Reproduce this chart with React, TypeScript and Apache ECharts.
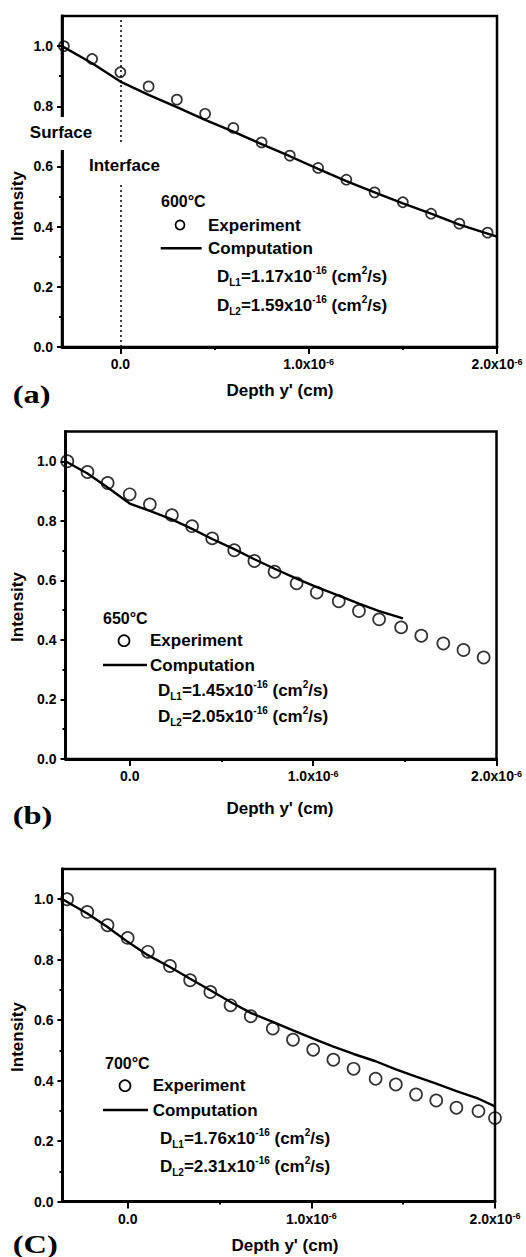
import { useEffect, useRef } from 'react';
import * as echarts from 'echarts';

const FONT = '"Liberation Sans", Arial, Helvetica, sans-serif';
const SERIF = '"Liberation Serif", "Times New Roman", serif';

// Depth values are in units of 1e-6 cm
// ---- Panel (a) 600°C ----
const expDepthA = [-0.30, -0.15, 0.00, 0.15, 0.30, 0.45, 0.60, 0.75, 0.90, 1.05, 1.20, 1.35, 1.50, 1.65, 1.80, 1.95];
const expIntA = [1.0, 0.957, 0.913, 0.866, 0.822, 0.775, 0.728, 0.680, 0.636, 0.595, 0.556, 0.514, 0.481, 0.443, 0.410, 0.380];
const compDepthA = [-0.31, -0.15, 0.00, 0.15, 0.30, 0.45, 0.60, 0.75, 0.90, 1.05, 1.20, 1.35, 1.50, 1.65, 1.80, 2.00];
const compIntA = [1.0, 0.943, 0.882, 0.838, 0.797, 0.755, 0.716, 0.674, 0.634, 0.592, 0.551, 0.514, 0.477, 0.443, 0.407, 0.367];

// ---- Panel (b) 650°C ----
const expDepthB = [-0.34, -0.23, -0.12, 0.00, 0.11, 0.23, 0.34, 0.45, 0.57, 0.68, 0.79, 0.91, 1.02, 1.14, 1.25, 1.36, 1.48, 1.59, 1.71, 1.82, 1.93];
const expIntB = [1.0, 0.964, 0.927, 0.889, 0.855, 0.819, 0.782, 0.741, 0.701, 0.665, 0.629, 0.590, 0.559, 0.530, 0.497, 0.469, 0.442, 0.414, 0.388, 0.366, 0.341];
const compDepthB = [-0.35, -0.23, -0.12, 0.00, 0.11, 0.23, 0.34, 0.45, 0.57, 0.68, 0.79, 0.91, 1.02, 1.14, 1.25, 1.36, 1.49];
const compIntB = [1.0, 0.959, 0.912, 0.858, 0.833, 0.805, 0.773, 0.739, 0.705, 0.671, 0.639, 0.606, 0.577, 0.549, 0.522, 0.497, 0.472];

// ---- Panel (c) 700°C ----
const expDepthC = [-0.33, -0.22, -0.11, 0.00, 0.11, 0.23, 0.34, 0.45, 0.56, 0.67, 0.79, 0.90, 1.01, 1.12, 1.23, 1.35, 1.46, 1.57, 1.68, 1.79, 1.91, 2.00];
const expIntC = [1.0, 0.958, 0.914, 0.872, 0.826, 0.779, 0.732, 0.693, 0.649, 0.613, 0.572, 0.535, 0.502, 0.469, 0.439, 0.406, 0.387, 0.354, 0.334, 0.310, 0.299, 0.276];
const compDepthC = [-0.355, -0.22, -0.11, 0.00, 0.11, 0.23, 0.34, 0.45, 0.56, 0.67, 0.79, 0.90, 1.01, 1.12, 1.23, 1.35, 1.46, 1.57, 1.68, 1.79, 1.91, 2.00];
const compIntC = [1.0, 0.953, 0.908, 0.859, 0.815, 0.776, 0.737, 0.699, 0.660, 0.624, 0.594, 0.566, 0.539, 0.512, 0.488, 0.464, 0.437, 0.413, 0.390, 0.365, 0.340, 0.315];

const temperatures = ['600°C', '650°C', '700°C'];
const dL1Values = ['1.17', '1.45', '1.76'];
const dL2Values = ['1.59', '2.05', '2.31'];
const panelLetters = ['(a)', '(b)', '(C)'];

const xTickValues = [0, 1, 2];
const xMinorTicks = [0.5, 1.5];
const xMax = 2.0;
const yTickValues = [0, 0.2, 0.4, 0.6, 0.8, 1.0];
const yMinorTicks = [0.1, 0.3, 0.5, 0.7, 0.9];
const yMax = 1.1;

const xAxisTitle = "Depth y' (cm)";
const yAxisTitle = 'Intensity';

const zip = (xs: number[], ys: number[]) => xs.map((x, i) => [x, ys[i]]);

const panels = [
  {
    grid: { left: 62, top: 16, width: 435, height: 331 }, xMin: -0.31, sym: 10,
    exp: zip(expDepthA, expIntA), comp: zip(compDepthA, compIntA), interfaceLine: true,
    titleX: 280, titleY: 390, intensityY: 206, letterY: 394,
    temp: { x: 161, y: 201.7 }, circ: { x: 180, y: 225, r: 4.5 }, line: { x1: 160.7, x2: 201.7, y: 248.3 },
    textX: 208, expY: 225, compY: 248.3, dX: 217, d1Y: 276.7, d2Y: 305,
  },
  {
    grid: { left: 65.5, top: 431.5, width: 431, height: 327.5 }, xMin: -0.35, sym: 12,
    exp: zip(expDepthB, expIntB), comp: zip(compDepthB, compIntB), interfaceLine: false,
    titleX: 280, titleY: 808, intensityY: 607, letterY: 815,
    temp: { x: 103, y: 618 }, circ: { x: 124, y: 640.7, r: 5.5 }, line: { x1: 103, x2: 147, y: 665 },
    textX: 150, expY: 640.7, compY: 665, dX: 158, d1Y: 690, d2Y: 716.7,
  },
  {
    grid: { left: 62.5, top: 869, width: 432.5, height: 332.5 }, xMin: -0.355, sym: 12,
    exp: zip(expDepthC, expIntC), comp: zip(compDepthC, compIntC), interfaceLine: false,
    titleX: 285, titleY: 1245, intensityY: 1037, letterY: 1244,
    temp: { x: 105, y: 1063 }, circ: { x: 125, y: 1085.7, r: 5.5 }, line: { x1: 103, x2: 148, y: 1110 },
    textX: 152.7, expY: 1085.7, compY: 1110, dX: 160, d1Y: 1138, d2Y: 1166.7,
  },
];

const txt = (x: number, y: number, text: string, size: number, extra: any = {}) => ({
  type: 'text', x, y, z: 101,
  style: {
    text, fill: '#000', fontSize: size, fontWeight: 'bold', fontFamily: FONT,
    align: 'left', verticalAlign: 'middle', ...extra,
  },
});

const dText = (x: number, y: number, sub: string, val: string) => ({
  type: 'text', x, y, z: 101,
  style: {
    text: `{m|D}{sb|${sub}}{m|=${val}x10}{sp|-16}{m| (cm}{sp|2}{m|/s)}`,
    align: 'left', verticalAlign: 'middle', fill: '#000',
    rich: {
      m: { fontSize: 17, fontWeight: 'bold', fontFamily: FONT, fill: '#000', color: '#000', lineHeight: 22, verticalAlign: 'middle' },
      sp: { fontSize: 10, fontWeight: 'bold', fontFamily: FONT, fill: '#000', color: '#000', lineHeight: 10, verticalAlign: 'top' },
      sb: { fontSize: 10, fontWeight: 'bold', fontFamily: FONT, fill: '#000', color: '#000', lineHeight: 10, verticalAlign: 'bottom' },
    },
  },
});

function buildOption() {
  const grids: any[] = [];
  const xAxes: any[] = [];
  const yAxes: any[] = [];
  const series: any[] = [];
  const elements: any[] = [];

  panels.forEach((p) => {
    grids.push({ ...p.grid, show: true, borderColor: '#000', borderWidth: 2.5, backgroundColor: 'transparent', outerBoundsMode: 'none', containLabel: false });
  });
  panels.forEach((p) => {
    grids.push({ ...p.grid, show: false, outerBoundsMode: 'none', containLabel: false });
  });

  const labelStyle = { color: '#000', fontSize: 14, fontWeight: 'bold', fontFamily: FONT };

  panels.forEach((p, i) => {
    xAxes.push({
      type: 'value', gridIndex: i, min: p.xMin, max: xMax, position: 'bottom',
      axisLine: { show: true, onZero: false, lineStyle: { color: '#000', width: 2.8 } },
      axisTick: { show: true, inside: false, length: 7, lineStyle: { color: '#000', width: 2 }, customValues: xTickValues },
      axisLabel: {
        show: true, customValues: xTickValues, margin: 10,
        formatter: (v: number) => (v === 0 ? '{m|0.0}' : `{m|${v.toFixed(1)}x10}{s|-6}`),
        rich: {
          m: { ...labelStyle, lineHeight: 14 },
          s: { ...labelStyle, fontSize: 9, lineHeight: 9, verticalAlign: 'top' },
        },
      },
      splitLine: { show: false },
    });
    yAxes.push({
      type: 'value', gridIndex: i, min: 0, max: yMax, position: 'left',
      axisLine: { show: true, onZero: false, lineStyle: { color: '#000', width: 2.8 } },
      axisTick: { show: true, inside: false, length: 5, lineStyle: { color: '#000', width: 2 }, customValues: yTickValues },
      axisLabel: { show: true, customValues: yTickValues, margin: 9, formatter: (v: number) => v.toFixed(1), ...labelStyle },
      splitLine: { show: false },
    });
  });
  panels.forEach((p, i) => {
    xAxes.push({
      type: 'value', gridIndex: 3 + i, min: p.xMin, max: xMax, position: 'bottom',
      axisLine: { show: false, onZero: false },
      axisTick: { show: true, inside: false, length: 3, lineStyle: { color: '#000', width: 2 }, customValues: xMinorTicks },
      axisLabel: { show: false },
      splitLine: { show: false },
    });
    yAxes.push({
      type: 'value', gridIndex: 3 + i, min: 0, max: yMax, position: 'left',
      axisLine: { show: false, onZero: false },
      axisTick: { show: true, inside: false, length: 3, lineStyle: { color: '#000', width: 2 }, customValues: yMinorTicks },
      axisLabel: { show: false },
      splitLine: { show: false },
    });
  });

  panels.forEach((p, i) => {
    series.push({
      type: 'scatter', name: 'Experiment', xAxisIndex: i, yAxisIndex: i, data: p.exp,
      symbol: 'circle', symbolSize: p.sym, clip: false,
      itemStyle: { color: 'rgba(0,0,0,0)', borderColor: '#000', borderWidth: 1.7 },
      z: 3,
    });
    const line: any = {
      type: 'line', name: 'Computation', xAxisIndex: i, yAxisIndex: i, data: p.comp,
      showSymbol: false, symbol: 'none', smooth: false,
      lineStyle: { color: '#000', width: 2.4 }, z: 4,
    };
    if (p.interfaceLine) {
      line.markLine = {
        silent: true, symbol: ['none', 'none'], label: { show: false },
        lineStyle: { type: [2, 3], color: '#000', width: 1.5 },
        data: [{ xAxis: 0 }],
      };
    }
    series.push(line);

    // legend-like annotations
    elements.push(txt(p.temp.x, p.temp.y, temperatures[i], 16));
    elements.push({
      type: 'circle', z: 101, shape: { cx: p.circ.x, cy: p.circ.y, r: p.circ.r },
      style: { fill: 'none', stroke: '#000', lineWidth: 1.7 },
    });
    elements.push(txt(p.textX, p.expY, 'Experiment', 17));
    elements.push({
      type: 'line', z: 101, shape: { x1: p.line.x1, y1: p.line.y, x2: p.line.x2, y2: p.line.y },
      style: { stroke: '#000', lineWidth: 2.4 },
    });
    elements.push(txt(p.textX, p.compY, 'Computation', 17));
    elements.push(dText(p.dX, p.d1Y, 'L1', dL1Values[i]));
    elements.push(dText(p.dX, p.d2Y, 'L2', dL2Values[i]));

    // axis titles
    elements.push(txt(p.titleX, p.titleY, xAxisTitle, 17, { align: 'center' }));
    elements.push({
      type: 'text', x: 17.5, y: p.intensityY, rotation: Math.PI / 2, z: 101,
      style: { text: yAxisTitle, fill: '#000', fontSize: 17, fontWeight: 'bold', fontFamily: FONT, align: 'center', verticalAlign: 'middle' },
    });
    // panel letter
    elements.push({
      type: 'text', x: 12.7, y: p.letterY, scaleX: 1.3, z: 101,
      style: { text: panelLetters[i], fill: '#000', fontSize: 25, fontWeight: 'bold', fontFamily: SERIF, align: 'left', verticalAlign: 'middle' },
    });
  });

  // Surface / Interface annotations in panel (a) with gaps in the lines
  elements.push({ type: 'rect', z: 100, shape: { x: 55, y: 117, width: 14, height: 33 }, style: { fill: '#fff' } });
  elements.push({ type: 'rect', z: 100, shape: { x: 116, y: 145, width: 10, height: 40 }, style: { fill: '#fff' } });
  elements.push(txt(61, 132.7, 'Surface', 17, { align: 'center' }));
  elements.push(txt(89, 165, 'Interface', 17));

  return {
    animation: false,
    backgroundColor: '#fff',
    textStyle: { fontFamily: FONT },
    grid: grids,
    xAxis: xAxes,
    yAxis: yAxes,
    series,
    graphic: { elements },
  };
}

export default function App() {
  const ref = useRef<HTMLDivElement>(null);
  useEffect(() => {
    if (!ref.current) return;
    const chart = echarts.init(ref.current, null, { renderer: 'svg' });
    chart.setOption(buildOption() as any);
    return () => chart.dispose();
  }, []);
  return (
    <div
      ref={ref}
      style={{ position: 'absolute', left: 0, top: 0, width: 526, height: 1257, background: '#fff' }}
    />
  );
}
